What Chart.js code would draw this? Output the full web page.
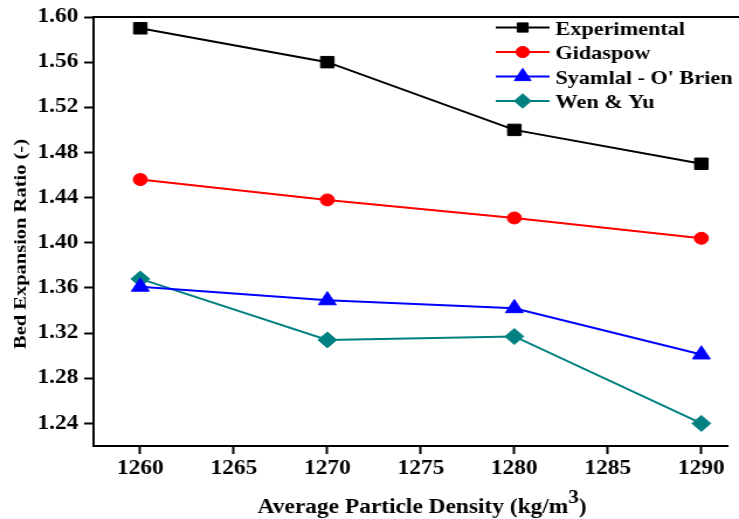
<!DOCTYPE html>
<html>
<head>
<meta charset="utf-8">
<script src="https://cdn.jsdelivr.net/npm/chart.js@4/dist/chart.umd.min.js"></script>
<style>
  html, body { margin: 0; padding: 0; background: #fff; overflow: hidden; }
  #wrap { width: 739px; height: 519px; overflow: hidden; }
  #c { display: block; transform: scaleX(1.1693); transform-origin: 0 0; }
</style>
</head>
<body>
<div id="wrap"><canvas id="c" width="632" height="519" style="width:632px;height:519px"></canvas></div>
<script>
// Bed expansion ratio versus average particle density
const densities = [1260, 1270, 1280, 1290];
const experimental = [1.590, 1.560, 1.500, 1.470];
const gidaspow = [1.456, 1.438, 1.422, 1.404];
const syamlalOBrien = [1.361, 1.349, 1.342, 1.301];
const wenYu = [1.368, 1.314, 1.317, 1.240];

const seriesNames = ['Experimental', 'Gidaspow', "Syamlal - O' Brien", 'Wen & Yu'];
const xTicks = [1260, 1265, 1270, 1275, 1280, 1285, 1290];
const yTicks = [1.24, 1.28, 1.32, 1.36, 1.40, 1.44, 1.48, 1.52, 1.56, 1.60];

const yTitle = 'Bed Expansion Ratio (-)';
const xTitleMain = 'Average Particle Density (kg/m';
const xTitleSup = '3';
const xTitleEnd = ')';

const FONT = "'Liberation Serif', 'Times New Roman', serif";

function pts(vals) { return densities.map((d, i) => ({ x: d, y: vals[i] })); }

function series(label, vals, color, style, radius, legendRadius) {
  return {
    label, data: pts(vals), showLine: true,
    borderColor: color, backgroundColor: color, borderWidth: 2,
    pointStyle: style, pointRadius: radius, pointHoverRadius: radius,
    pointBorderWidth: 1, pointBorderColor: color, pointBackgroundColor: color,
    tension: 0, legendRadius
  };
}

const datasets = [
  series(seriesNames[0], experimental, '#000000', 'rect', 8.1, 6.5),
  series(seriesNames[1], gidaspow, '#ff0000', 'circle', 6, 5.6),
  series(seriesNames[2], syamlalOBrien, '#0000ff', 'triangle', 8.8, 8.2),
  series(seriesNames[3], wenYu, '#008080', 'rectRot', 8, 7.3)
];

// frame line along the top of the plot area
const topFrame = {
  id: 'topFrame',
  afterDraw(chart) {
    const { ctx, chartArea } = chart;
    ctx.save();
    ctx.strokeStyle = '#000';
    ctx.lineWidth = 2;
    ctx.beginPath();
    ctx.moveTo(chartArea.left - 1, chartArea.top);
    ctx.lineTo(chart.width, chartArea.top);
    ctx.stroke();
    ctx.restore();
  }
};

// axis titles (x title carries a superscript)
const axisTitles = {
  id: 'axisTitles',
  afterDraw(chart) {
    const ctx = chart.ctx;
    ctx.save();
    ctx.fillStyle = '#000';
    // y title, rotated and fitted to its length
    ctx.font = 'bold 15px ' + FONT;
    const w = ctx.measureText(yTitle).width;
    ctx.translate(18, 244);
    ctx.rotate(-Math.PI / 2);
    ctx.scale(210 / w, 1);
    ctx.textAlign = 'center';
    ctx.textBaseline = 'middle';
    ctx.fillText(yTitle, 0, 0);
    ctx.restore();

    ctx.save();
    ctx.fillStyle = '#000';
    ctx.textBaseline = 'alphabetic';
    ctx.textAlign = 'left';
    const mainFont = 'bold 20px ' + FONT;
    const supFont = 'bold 18px ' + FONT;
    ctx.font = mainFont;
    const w1 = ctx.measureText(xTitleMain).width;
    const w3 = ctx.measureText(xTitleEnd).width;
    ctx.font = supFont;
    const w2 = ctx.measureText(xTitleSup).width;
    const total = w1 + w2 + w3;
    const cx = 361;
    let x = cx - total / 2;
    const base = 513;
    ctx.font = mainFont;
    ctx.fillText(xTitleMain, x, base);
    x += w1;
    ctx.font = supFont;
    ctx.fillText(xTitleSup, x, base - 10);
    x += w2;
    ctx.font = mainFont;
    ctx.fillText(xTitleEnd, x, base);
    ctx.restore();
  }
};

// legend with line-through markers
const lineLegend = {
  id: 'lineLegend',
  afterDraw(chart) {
    const ctx = chart.ctx;
    const rows = [27.5, 52, 76.5, 101];
    ctx.save();
    chart.data.datasets.forEach((ds, i) => {
      const y = rows[i];
      ctx.strokeStyle = ds.borderColor;
      ctx.lineWidth = 2;
      ctx.beginPath();
      ctx.moveTo(424, y);
      ctx.lineTo(470, y);
      ctx.stroke();
      ctx.fillStyle = ds.backgroundColor;
      ctx.strokeStyle = ds.borderColor;
      ctx.lineWidth = 1;
      Chart.helpers.drawPoint(ctx, {
        pointStyle: ds.pointStyle, rotation: 0, radius: ds.legendRadius, borderWidth: 1
      }, 447, y);
      ctx.fillStyle = '#000';
      ctx.font = 'bold 19px ' + FONT;
      ctx.textAlign = 'left';
      ctx.textBaseline = 'alphabetic';
      ctx.fillText(ds.label, 475, y + 7);
    });
    ctx.restore();
  }
};

const tickFont = { family: FONT, size: 20, weight: 'bold' };

new Chart(document.getElementById('c'), {
  type: 'scatter',
  data: { datasets },
  plugins: [topFrame, axisTitles, lineLegend],
  options: {
    responsive: false,
    animation: false,
    layout: { padding: { top: 17, right: 0, bottom: 0, left: 0 } },
    plugins: { legend: { display: false }, tooltip: { enabled: false } },
    scales: {
      x: {
        type: 'linear', min: 1257.5, max: 1291.4,
        afterBuildTicks: s => { s.ticks = xTicks.map(v => ({ value: v })); },
        afterFit: s => { s.height = 73; s.paddingLeft = 0; s.paddingRight = 0; },
        grid: { display: true, drawOnChartArea: false, drawTicks: true, tickLength: 8, tickWidth: 2, tickColor: '#000' },
        border: { display: true, color: '#000', width: 2 },
        ticks: { color: '#000', font: tickFont, padding: 3, maxRotation: 0, autoSkip: false, callback: v => String(v) },
        title: { display: false }
      },
      y: {
        type: 'linear', min: 1.22, max: 1.60,
        afterBuildTicks: s => { s.ticks = yTicks.map(v => ({ value: v })); },
        afterFit: s => { s.width = 80; s.paddingTop = 0; s.paddingBottom = 0; },
        grid: { display: true, drawOnChartArea: false, drawTicks: true, tickLength: 8, tickWidth: 2, tickColor: '#000' },
        border: { display: true, color: '#000', width: 2 },
        ticks: { color: '#000', font: tickFont, padding: 5, autoSkip: false, callback: v => Number(v).toFixed(2) },
        title: { display: false }
      }
    }
  }
});
</script>
</body>
</html>
